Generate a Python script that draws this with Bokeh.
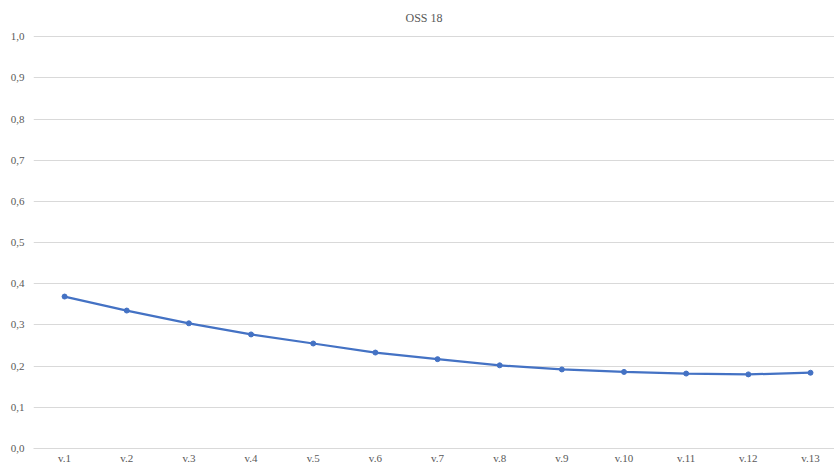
from bokeh.plotting import figure
from bokeh.models import Range1d, FixedTicker, CustomJSTickFormatter, ColumnDataSource, Title
from bokeh.embed import file_html
from bokeh.resources import INLINE

title_text = "OSS 18"
categories = ["v.1", "v.2", "v.3", "v.4", "v.5", "v.6", "v.7", "v.8", "v.9", "v.10", "v.11", "v.12", "v.13"]
values = [0.369, 0.335, 0.304, 0.277, 0.255, 0.233, 0.217, 0.202, 0.192, 0.186, 0.182, 0.180, 0.184]
y_ticks = [0.0, 0.1, 0.2, 0.3, 0.4, 0.5, 0.6, 0.7, 0.8, 0.9, 1.0]

pos = [i + 1 for i in range(len(categories))]
src = ColumnDataSource(data=dict(x=pos, y=values, cat=categories))

FONT = "Liberation Serif"
GRAY = "#595959"
GRID = "#d9d9d9"
BLUE = "#4472C4"

p = figure(width=834, height=466, output_backend="svg", toolbar_location=None,
           x_range=Range1d(0.5, 13.386), y_range=Range1d(0.0, 1.02),
           min_border_left=33, min_border_right=0, min_border_top=28, min_border_bottom=0)
p.outline_line_color = None
p.background_fill_color = "white"
p.border_fill_color = "white"

t = Title(text=title_text, align="left", offset=372, text_font=FONT, text_font_size="12px",
          text_color=GRAY, text_font_style="normal", standoff=7)
p.add_layout(t, "above")

p.line("x", "y", source=src, line_color=BLUE, line_width=2.25)
p.scatter("x", "y", source=src, size=5, fill_color=BLUE, line_color=BLUE)

p.xaxis.ticker = FixedTicker(ticks=pos)
p.xaxis.major_label_overrides = {x: c for x, c in zip(pos, categories)}
p.xaxis.axis_line_color = GRID
p.xaxis.major_tick_line_color = None
p.xaxis.minor_tick_line_color = None
p.xaxis.major_tick_out = 0
p.xaxis.major_tick_in = 0
p.xaxis.major_label_standoff = 3
p.xaxis.major_label_text_font = FONT
p.xaxis.major_label_text_font_size = "11px"
p.xaxis.major_label_text_color = GRAY

p.yaxis.ticker = FixedTicker(ticks=y_ticks)
p.yaxis.formatter = CustomJSTickFormatter(code="return tick.toFixed(1).replace('.', ',');")
p.yaxis.axis_line_color = None
p.yaxis.major_tick_line_color = None
p.yaxis.minor_tick_line_color = None
p.yaxis.major_tick_out = 0
p.yaxis.major_tick_in = 0
p.yaxis.major_label_standoff = 9
p.yaxis.major_label_text_font = FONT
p.yaxis.major_label_text_font_size = "11px"
p.yaxis.major_label_text_color = GRAY

p.xgrid.grid_line_color = None
p.ygrid.grid_line_color = GRID
p.ygrid.grid_line_width = 1

open("out.html", "w").write(file_html(p, INLINE))
